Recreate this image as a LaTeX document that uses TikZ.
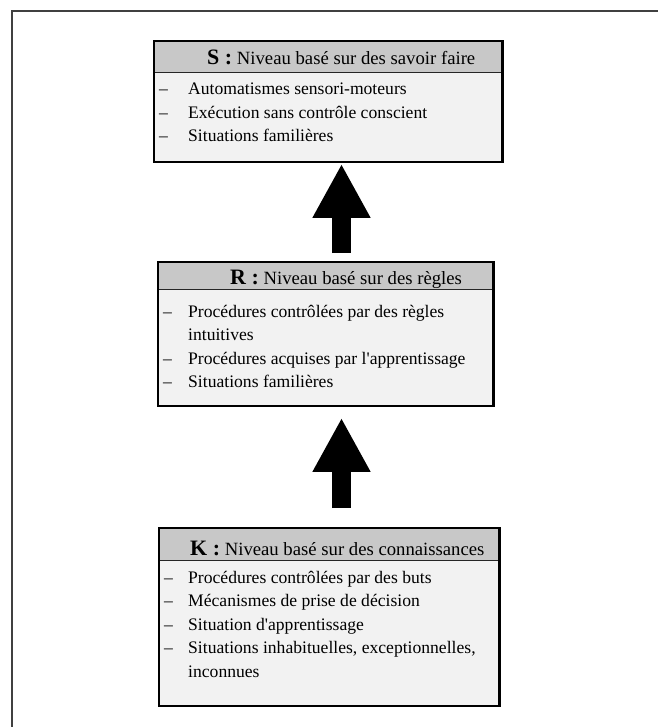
\documentclass[tikz,border=0pt]{standalone}
\usepackage{fontspec}
\setmainfont{Liberation Serif}
\usetikzlibrary{
	arrows.meta,
	calc,
	positioning
}
\definecolor{GrisTete}{RGB}{200,200,200}
\definecolor{GrisCorps}{RGB}{242,242,242}
\definecolor{GrisCadre}{RGB}{64,64,64}

\tikzset{
	entete/.style={fill=GrisTete, inner sep=0pt, anchor=north west},
	corps/.style={fill=GrisCorps, inner sep=0pt, anchor=north west},
	titre/.style={anchor=base west, inner sep=0pt, font=\fontsize{18.7}{21}\selectfont},
	liste/.style={anchor=base west, inner sep=0pt, font=\fontsize{17.6}{23.5}\selectfont},
	bord/.style={line width=2.5pt},
	trait/.style={line width=1.5pt, draw=black!85},
	fleche/.style={line width=19pt, -{Triangle[width=54pt,length=54pt]}}
}
\newcommand{\lettre}[1]{{\fontsize{22}{22}\selectfont\bfseries #1 :}}

\begin{document}
\begin{tikzpicture}[x=1pt, y=-1pt]
		\useasboundingbox (0,0) rectangle (658,727);
		% cadre
		\draw[line width=2pt, GrisCadre] (12,727) -- (12,11) -- (658,11);
		% S : savoir-faire
		\node[entete, minimum width=348pt, minimum height=31pt] (Stete) at (154,41) {};
		\node[corps, minimum width=348pt, minimum height=89pt] (Scorps) at (Stete.south west) {};
		\draw[trait] (Stete.south west) -- (Stete.south east);
		\draw[bord] (Stete.north west) rectangle (Scorps.south east);
		\node[titre] (Stitre) at (207,65) {\lettre{S} Niveau basé sur des savoir faire};
		\node[liste] (Sliste) at (159,95) {\begin{tabular}[t]{@{}p{29pt}@{}l@{}}
			– & Automatismes sensori-moteurs\\
			– & Exécution sans contrôle conscient\\
			– & Situations familières
		\end{tabular}};
		% R : regles
		\node[entete, minimum width=335pt, minimum height=27pt] (Rtete) at (158,262) {};
		\node[corps, minimum width=335pt, minimum height=116pt] (Rcorps) at (Rtete.south west) {};
		\draw[trait] (Rtete.south west) -- (Rtete.south east);
		\draw[bord] (Rtete.north west) rectangle (Rcorps.south east);
		\node[titre] (Rtitre) at (230,284) {\lettre{R} Niveau basé sur des règles};
		\node[liste] (Rliste) at (163,317) {\begin{tabular}[t]{@{}p{25pt}@{}l@{}}
			– & Procédures contrôlées par des règles\\
			  & intuitives\\
			– & Procédures acquises par l\textquotesingle apprentissage\\
			– & Situations familières
		\end{tabular}};
		% K : connaissances
		\node[entete, minimum width=340pt, minimum height=32pt] (Ktete) at (159,528) {};
		\node[corps, minimum width=340pt, minimum height=145pt] (Kcorps) at (Ktete.south west) {};
		\draw[trait] (Ktete.south west) -- (Ktete.south east);
		\draw[bord] (Ktete.north west) rectangle (Kcorps.south east);
		\node[titre] (Ktitre) at (190,555) {\lettre{K} Niveau basé sur des connaissances};
		\node[liste] (Kliste) at (164,583) {\begin{tabular}[t]{@{}p{24pt}@{}l@{}}
			– & Procédures contrôlées par des buts\\
			– & Mécanismes de prise de décision\\
			– & Situation d\textquotesingle apprentissage\\
			– & Situations inhabituelles, exceptionnelles,\\
			  & inconnues
		\end{tabular}};
		% fleches
		\coordinate (axe) at (341.5,0);
		\draw[fleche] ($(Rtete.north -| axe)+(0,-9)$) -- ($(Scorps.south -| axe)+(0,2)$);
		\draw[fleche] ($(Ktete.north -| axe)+(0,-20)$) -- ($(Rcorps.south -| axe)+(0,12)$);
	\end{tikzpicture}
\end{document}
